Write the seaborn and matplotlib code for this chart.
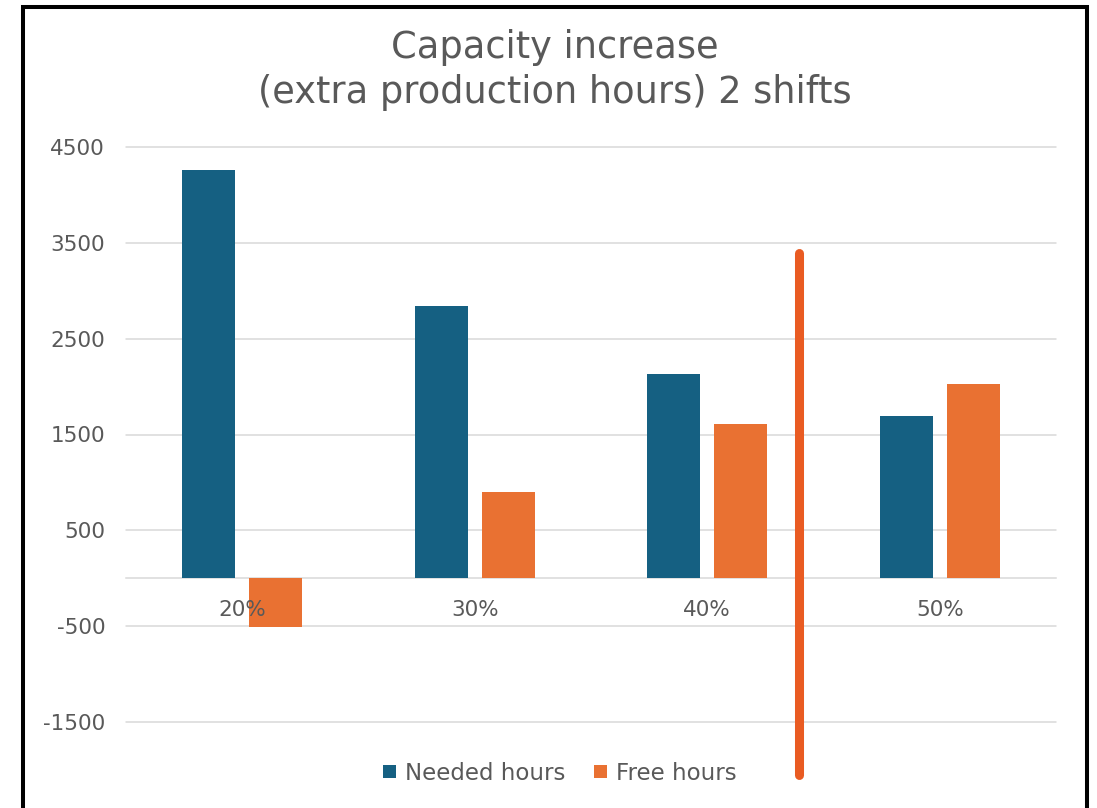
import matplotlib
matplotlib.use("Agg")
import matplotlib.pyplot as plt
import seaborn as sns
import pandas as pd
from matplotlib.lines import Line2D
from matplotlib.patches import Patch

# ---- data ----
categories = ["20%", "30%", "40%", "50%"]
needed_hours = [4257, 2841, 2130, 1692]
free_hours = [-505, 903, 1612, 2024]
series_names = ["Needed hours", "Free hours"]
y_ticks = [4500, 3500, 2500, 1500, 500, -500, -1500]
title_text = "Capacity increase\n(extra production hours) 2 shifts"

BLUE = "#156082"
ORANGE = "#E97132"
TEXT = "#595959"
GRID = "#D9D9D9"

df = pd.DataFrame({
    "category": categories * 2,
    "series": [series_names[0]] * len(categories) + [series_names[1]] * len(categories),
    "value": needed_hours + free_hours,
})

sns.set_theme(style="white")
plt.rcParams["font.family"] = ["DejaVu Sans"]

fig = plt.figure(figsize=(10.97, 8.08), dpi=100)
ax = fig.add_axes([126 / 1097, 1 - 722 / 808, (1056 - 126) / 1097, (722 - 147) / 808])

sns.barplot(data=df, x="category", y="value", hue="series",
            palette=[BLUE, ORANGE], width=0.577, gap=0.21,
            saturation=1, ax=ax, legend=False, zorder=3,
            linewidth=0, edgecolor="none")

ax.set_ylim(-1500, 4500)
ax.set_xlim(-0.5, len(categories) - 0.5)
ax.set_yticks(y_ticks)
ax.set_yticklabels([str(t) for t in y_ticks])
ax.yaxis.grid(True, color=GRID, linewidth=1.1)
ax.xaxis.grid(False)
ax.set_axisbelow(True)
ax.xaxis.set_zorder(5)
ax.set_xlabel("")
ax.set_ylabel("")
for gl in ax.get_ygridlines():
    gl.set_clip_on(False)

for s in ["left", "right", "top"]:
    ax.spines[s].set_visible(False)
ax.spines["bottom"].set_position(("data", 0))
ax.spines["bottom"].set_color(GRID)
ax.spines["bottom"].set_linewidth(1.1)
ax.spines["bottom"].set_zorder(1)

ax.tick_params(axis="y", length=0, pad=15, labelsize=15.5, labelcolor=TEXT)
ax.tick_params(axis="x", length=0, pad=16, labelsize=15.5, labelcolor=TEXT)

# legend
handles = [Patch(facecolor=BLUE, edgecolor="none"), Patch(facecolor=ORANGE, edgecolor="none")]
fig.legend(handles, series_names, loc="center", bbox_to_anchor=(560 / 1097, 1 - 773 / 808),
           ncol=2, frameon=False, fontsize=16.5, labelcolor=TEXT,
           handlelength=0.55, handleheight=0.5, handletextpad=0.4, columnspacing=1.25)

# title
fig.text(555 / 1097, 1 - 29 / 808, title_text, ha="center", va="top",
         fontsize=26.5, color=TEXT, linespacing=1.28)

# annotation: vertical red stroke
fig.add_artist(Line2D([799 / 1097, 799 / 1097], [1 - 253 / 808, 1 - 775 / 808],
                      transform=fig.transFigure, color="#E95B22", linewidth=6.5,
                      solid_capstyle="round"))

# black frame (open at bottom)
fig.add_artist(Line2D([23 / 1097, 23 / 1097, 1087 / 1097, 1087 / 1097],
                      [-0.05, 1 - 7 / 808, 1 - 7 / 808, -0.05],
                      transform=fig.transFigure, color="black", linewidth=2.9,
                      solid_joinstyle="miter"))

fig.savefig("out.png", dpi=100)
